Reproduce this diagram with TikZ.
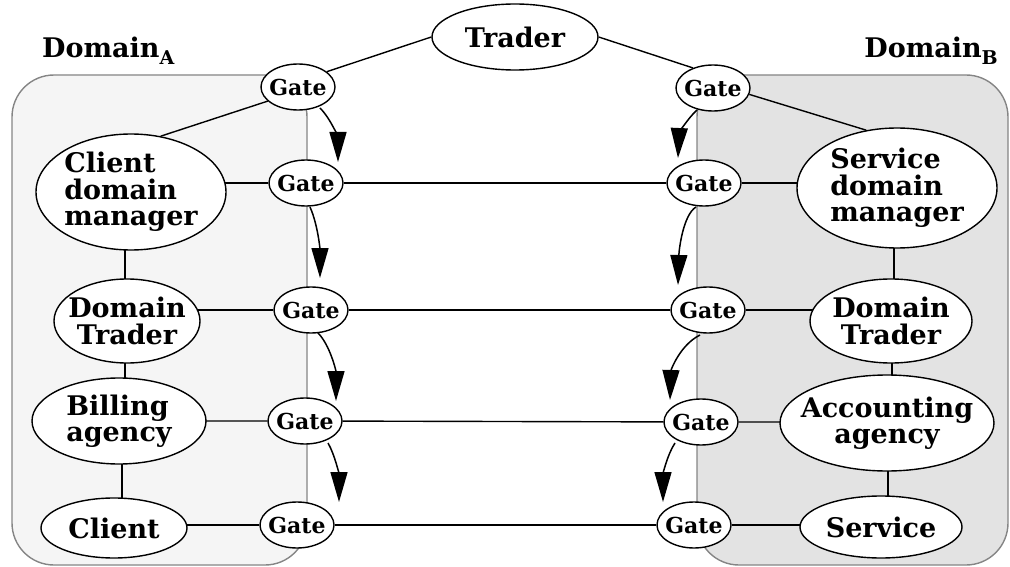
\documentclass[tikz,border=0pt]{standalone}
\usepackage{fontspec}
\setmainfont{DejaVu Serif}
\usetikzlibrary{arrows.meta,calc,shapes.geometric}
\pgfdeclarelayer{bg}
\pgfdeclarelayer{edges}
\pgfsetlayers{bg,edges,main}
\begin{document}
\begin{tikzpicture}[x=1pt,y=-1pt,
  oval/.style={ellipse,draw,fill=white,line width=1.4pt,inner sep=0pt},
  txt/.style={font=\fontsize{27}{26.5}\selectfont\bfseries,inner sep=0pt},
  gtxt/.style={font=\fontsize{22}{22}\selectfont\bfseries,inner sep=0pt},
  gate/.style={oval,minimum width=74pt,minimum height=46pt,label={[gtxt]center:Gate}},
  domainbox/.style={rounded corners=42pt,draw=black!48,line width=1.4pt},
  conn/.style={line width=1.4pt},
  arr/.style={line width=1.5pt,-{Triangle[length=30pt,width=17pt]}},
  dlabel/.style={font=\fontsize{27}{27}\selectfont\bfseries,inner sep=0pt}
]
\useasboundingbox (0,0) rectangle (1010,567);

% domains
\begin{pgfonlayer}{bg}
\draw[domainbox,fill=black!4] (12,75) rectangle (307,565);
\draw[domainbox,fill=black!11] (697,75) rectangle (1008,565);
\end{pgfonlayer}

\node[dlabel,anchor=base west] (dA) at (42,58) {Domain\raisebox{-7pt}{\fontsize{19}{19}\selectfont A}};
\node[dlabel,anchor=base east] (dB) at (998,58) {Domain\raisebox{-7pt}{\fontsize{19}{19}\selectfont B}};

% central trader
\node[oval,minimum width=166pt,minimum height=66pt,label={[txt]center:Trader}] (trader) at (515,37) {};

% left domain
\node[oval,minimum width=190pt,minimum height=116pt,label={[txt,align=left]center:Client\\domain\\manager}] (cdm) at (131,192) {};
\node[oval,minimum width=146pt,minimum height=84pt,label={[txt,align=center]center:Domain\\Trader}] (dtl) at (127,321) {};
\node[oval,minimum width=174pt,minimum height=86pt,label={[txt,align=left]center:Billing\\agency}] (ba) at (119,421) {};
\node[oval,minimum width=146pt,minimum height=60pt,label={[txt]center:Client}] (cl) at (114,528) {};

% right domain
\node[oval,minimum width=200pt,minimum height=120pt,label={[txt,align=left]center:Service\\domain\\manager}] (sdm) at (897,188) {};
\node[oval,minimum width=162pt,minimum height=84pt,label={[txt,align=center]center:Domain\\Trader}] (dtr) at (891,321) {};
\node[oval,minimum width=214pt,minimum height=96pt,label={[txt,align=center]center:Accounting\\agency}] (aa) at (887,423) {};
\node[oval,minimum width=162pt,minimum height=62pt,label={[txt]center:Service}] (sv) at (881,527) {};

% gates
\node[gate] (gl1) at (298,87) {};
\node[gate] (gl2) at (306,183) {};
\node[gate] (gl3) at (311,310) {};
\node[gate] (gl4) at (305,421) {};
\node[gate] (gl5) at (297,525) {};
\node[gate] (gr1) at (713,88) {};
\node[gate] (gr2) at (704,183) {};
\node[gate] (gr3) at (708,310) {};
\node[gate] (gr4) at (701,422) {};
\node[gate] (gr5) at (694,525) {};

\coordinate (vl1) at (125,0);
\coordinate (vl2) at (125,0);
\coordinate (vl3) at (122,0);
\coordinate (vr1) at (894,0);
\coordinate (vr2) at (892,0);
\coordinate (vr3) at (888,0);

\begin{pgfonlayer}{edges}
\draw[conn] (trader.west) -- (gl1.28);
\draw[conn] (trader.east) -- (gr1.135);
\draw[conn] (gl1.205) -- (cdm.62);
\draw[conn] (gr1.-10) -- (sdm.118);
% rows
\draw[conn] (gl2 -| cdm) -- (gl2) -- (gr2) -- (gr2 -| sdm);
\draw[conn] (gl3 -| dtl) -- (gl3) -- (gr3) -- (gr3 -| dtr);
\draw[conn] (gl4 -| ba) -- (gl4) -- (gr4) -- (gr4 -| aa);
\draw[conn] (gl5 -| cl) -- (gl5) -- (gr5) -- (gr5 -| sv);
% columns
\draw[conn] (vl1 |- cdm) -- (vl1 |- dtl);
\draw[conn] (vl2 |- dtl) -- (vl2 |- ba);
\draw[conn] (vl3 |- ba) -- (vl3 |- cl);
\draw[conn] (vr1 |- sdm) -- (vr1 |- dtr);
\draw[conn] (vr2 |- dtr) -- (vr2 |- aa);
\draw[conn] (vr3 |- aa) -- (vr3 |- sv);
\end{pgfonlayer}

% forwarding arrows
\draw[arr] ($(gl1)+(22,21)$) .. controls +(12,12) and +(0,-22) .. ($(gl2)+(32,-21)$);
\draw[arr] ($(gl2)+(4,24)$) .. controls +(8,18) and +(0,-28) .. ($(gl3)+(9,-32)$);
\draw[arr] ($(gl3)+(7,23)$) .. controls +(12,12) and +(0,-30) .. ($(gl4)+(31,-20)$);
\draw[arr] ($(gl4)+(23,22)$) .. controls +(7,12) and +(0,-27) .. ($(gl5)+(42,-23)$);
\draw[arr] ($(gr1)+(-16,22)$) .. controls +(-11,10) and +(1,-23) .. ($(gr2)+(-26,-25)$);
\draw[arr] ($(gr2)+(-8,24)$) .. controls +(-13,8) and +(1,-35) .. ($(gr3)+(-30,-25)$);
\draw[arr] ($(gr3)+(-8,25)$) .. controls +(-20,10) and +(1,-30) .. ($(gr4)+(-31,-22)$);
\draw[arr] ($(gr4)+(-26,21)$) .. controls +(-8,12) and +(0,-27) .. ($(gr5)+(-31,-23)$);
\end{tikzpicture}
\end{document}
